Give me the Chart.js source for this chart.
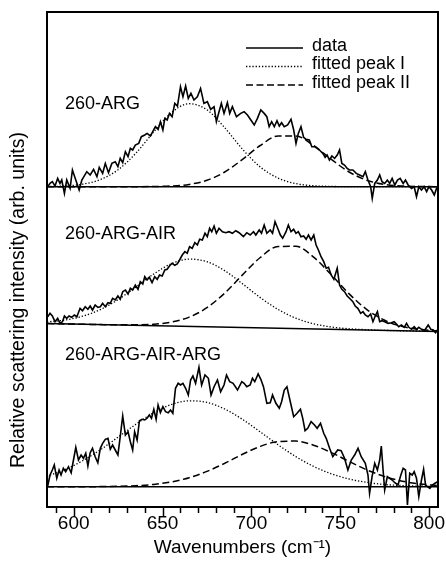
<!DOCTYPE html>
<html>
<head>
<meta charset="utf-8">
<script src="https://cdn.jsdelivr.net/npm/chart.js@4.4.1/dist/chart.umd.min.js"></script>
<style>
  html, body { margin: 0; padding: 0; background: #fff; }
  canvas { display: block; }
</style>
</head>
<body>
<canvas id="spectra" width="446" height="567"></canvas>
<script>
(function () {
  'use strict';

  // panels are stacked in one frame, each lifted by its offset
  var panelNames = ['260-ARG', '260-ARG-AIR', '260-ARG-AIR-ARG'];
  var panelOffsets = [320.3, 183.5, 20.3];
  var legendLabels = ['data', 'fitted peak I', 'fitted peak II'];
  var xTickValues = [590, 600, 610, 620, 630, 640, 650, 660, 670, 680, 690, 700, 710, 720, 730, 740, 750, 760, 770, 780, 790, 800];
  var xTickLabels = [600, 650, 700, 750, 800];

  var baselineWavenumbers = [585, 805];
  var p1Baseline = [0, 0];
  var p2Baseline = [0, -8];
  var p3Baseline = [0, 0];

  var fitWavenumbers = [585, 595, 605, 615, 625, 635, 645, 655, 665, 675, 685, 695, 705, 715, 725, 735, 745, 755, 765, 775, 785, 795, 805];

  // 260-ARG
  var p1Wavenumbers = [585.4, 586.7, 588.0, 589.5, 591.0, 592.3, 593.3, 594.8, 596.1, 598.0, 599.3, 601.2, 603.1, 604.6, 607.4, 609.3, 611.2, 613.1, 614.4, 616.3, 617.8, 619.6, 621.5, 623.4, 624.9, 626.2, 627.6, 629.1, 630.6, 631.9, 633.2, 634.7, 636.6, 638.1, 640.0, 641.3, 643.2, 644.5, 646.0, 647.5, 648.8, 650.2, 651.3, 652.6, 653.9, 655.4, 656.9, 658.4, 660.1, 661.5, 663.0, 664.5, 666.0, 667.7, 669.6, 671.4, 673.3, 675.2, 677.1, 679.0, 680.3, 681.8, 683.1, 684.6, 686.5, 687.8, 689.3, 691.6,
    694.0, 695.9, 697.8, 699.7, 701.6, 703.4, 705.3, 707.2, 708.7, 710.0, 711.4, 712.9, 714.4, 715.7, 717.0, 718.5, 720.4, 722.3, 723.8, 725.1, 726.4, 727.9, 729.4, 730.8, 732.6, 734.0, 735.5, 737.0, 738.3, 740.2, 741.5, 742.6, 743.9, 745.3, 746.8, 748.3, 749.6, 750.9, 752.4, 753.9, 755.2, 757.1, 759.0, 760.9, 762.8, 764.1, 765.6, 767.1, 768.0, 769.4, 770.9, 772.2, 773.5, 775.0, 776.5, 777.8, 779.2, 780.7, 782.2, 783.7, 785.4, 786.7, 788.2, 790.1, 791.6, 792.9, 794.2, 795.7, 797.2, 798.6, 799.9, 801.4, 802.9, 804.2, 805.0];
  var p1Intensity = [0, 3.3, 5, 0.7, 8.3, 3.3, 6.7, -6.7, 6.7, -1.7, 16.7, 6.7, -3.3, 6.7, 15, 11.7, 17.3, 10, 19.3, 13.3, 23.3, 14, 23.3, 25, 20, 28.3, 24, 35, 30, 38.3, 36.7, 41.7, 43.3, 50, 51.7, 53.3, 50.7, 55, 60, 57.3, 65, 56.7, 68.3, 66.7, 73.3, 70, 83.3, 80.7, 100, 90, 100.7, 88.3, 93.3, 86.7, 90, 98.3, 83.3, 85, 77.3, 80, 65, 75, 83.3, 73.3, 84, 73.3, 80, 70,
    73.3, 75, 71.7, 66.7, 61.7, 68.3, 76.7, 73.3, 70, 60, 65, 60, 66, 60.7, 64, 60, 61.7, 67.3, 56.7, 43.3, 53.3, 60, 49.3, 47.3, 46.7, 40, 40, 38.3, 36.7, 33.3, 29.3, 31.7, 26.7, 30.7, 28.3, 31.7, 36.7, 23.3, 21.7, 18.3, 16.7, 16.7, 13.3, 11.7, 10, 15, 6.7, 0, -11.7, 3.3, 6.7, 11.7, 5, 3.3, 6.7, 3.3, 8.3, 1.7, 6.7, 8.3, 3.3, 6.7, 1.7, -1.7, 0, -10, 0, -3.3, 0, -5, 0, -3.3, -8.3, -1.7, -3.3];
  var p1PeakI = [0.2, 0.7, 2.5, 7.1, 16.9, 33.5, 54.7, 74, 83, 76.9, 59, 37.5, 19.7, 8.6, 3.1, 0.9, 0.3, 0, 0, 0, 0, 0, 0];
  var p1PeakII = [0, 0, 0, 0, 0, 0, 0.2, 0.7, 2.3, 6.4, 14.7, 27.3, 41.2, 50.7, 50.7, 41.2, 27.3, 14.7, 6.4, 2.3, 0.7, 0.2, 0];

  // 260-ARG-AIR
  var p2Wavenumbers = [585.4, 586.7, 588, 589.5, 591, 592.3, 593.7, 594.8, 596.1, 597.4, 598.9, 600.4, 601.8, 603.6, 605, 606.5, 608, 609.3, 610.6, 612.1, 613.6, 615, 616.3, 617.8, 619.3, 620.6, 621.9, 623.4, 624.9, 626.2, 627.6, 629.1, 630.6, 631.9, 633.2, 634.7, 636.2, 637.5, 638.9, 640, 641.3, 642.6, 644.1, 645.6, 647, 648.3, 649.8, 651.3, 652.6, 653.9, 655.4, 656.9, 658.3, 659.6, 661.1, 662.6, 663.9, 665.2, 666.7, 668.2, 669.6, 670.9, 672.4, 673.9, 675.2, 676.5, 677.7, 679, 680.3, 681.8, 683.7, 685.6, 687.4, 689.3, 691.2, 693.1,
    695.5, 697.4, 699.3, 701.2, 702.5, 704.4, 705.7, 707.2, 708.7, 710.6, 711.9, 713.3, 714.8, 716.3, 717.6, 719.5, 720.8, 722.3, 723.8, 725.1, 726.4, 727.9, 729.4, 730.8, 732.1, 733.6, 735.1, 736.4, 737.7, 739.2, 740.7, 742.1, 743.4, 744.9, 746.4, 748.3, 749.6, 750.9, 752.4, 753.9, 755.2, 757.1, 758.4, 759.9, 761.5, 762.8, 764.1, 765.6, 767.1, 768.4, 769.7, 770.9, 772.2, 773.5, 775, 776.9, 778.8, 780.3, 781.6, 782.9, 784.4, 786, 787.3, 788.6, 790.1, 791.6, 792.9, 794.2, 795.7, 797.6, 799.5, 801, 802.3, 803.6, 805];
  var p2Intensity = [6.8, 10.2, 7.5, 1.8, 5.2, 0.2, 1.8, 7.5, 5.2, 7.5, 6.2, 8.5, 6.8, 15.2, 12.8, 16.8, 14.2, 17.5, 13.5, 18.5, 16.2, 16.8, 20.2, 16.8, 20.8, 20.2, 25.2, 23.5, 27.5, 24.2, 31.8, 33.5, 29.5, 35.2, 33.5, 38.5, 34.2, 41.8, 39.5, 46.8, 43.5, 46.2, 40.8, 46.8, 44.2, 48.5, 47.5, 53.5, 54.2, 57.5, 60.2, 58.2, 59.5, 63.5, 68.5, 71.8, 70.2, 76.8, 75.2, 80.8, 78.5, 84.2, 83.5, 90.2, 86.8, 95.2, 91.8, 97.5, 90.2, 95.2, 91.8, 90.8, 91.8, 90.2, 92.8, 90.8,
    86.8, 90.8, 88.5, 91.8, 88.5, 93.5, 90.2, 98.5, 90.2, 93.5, 90.2, 101.8, 95.2, 88.5, 85.2, 91.8, 98.5, 91.8, 94.2, 90.2, 91.8, 86.8, 87.5, 84.2, 88.5, 83.5, 88.5, 78.5, 73.5, 66.8, 61.8, 55.2, 56.2, 48.5, 44.2, 55.2, 38.5, 34.2, 31.8, 27.5, 25.2, 21.8, 17.5, 15.2, 10.2, 11.8, 8.5, 6.8, 9.5, 1.8, 7.5, 11.8, 1.8, 2.8, 1.8, 0.2, 0.8, 1.8, -0.5, -3.2, -1.5, -3.8, 0.2, -3.8, -5.8, -3.2, -5.8, -3.8, -5.8, -6.5, -1.5, -5.8, -6.5, -9.2, -5.8];
  var p2PeakI = [1.6, 3.4, 7.3, 13.9, 23.9, 36.4, 49.4, 59.8, 64.4, 61.8, 52.8, 39.7, 25.9, 14.1, 5.3, -0.3, -3.5, -5.3, -6.2, -6.9, -7.3, -7.6, -8.0];
  var p2PeakII = [0, -0.4, -0.7, -1.1, -1.35, -1.3, -0.8, 1.4, 6.4, 15.8, 30.4, 48.6, 66, 77, 77.2, 66.4, 48.7, 29.6, 13.9, 3.2, -3.0, -6.0, -7.5];

  // 260-ARG-AIR-ARG
  var p3Wavenumbers = [585.4, 586.7, 588, 589.1, 590.5, 591.8, 592.9, 594.2, 595.5, 597.1, 598.6, 599.9, 601.2, 602.7, 604.2, 605.5, 606.8, 608, 609.3, 610.6, 612.1, 613.6, 615, 616.3, 617.8, 619.3, 620.6, 621.9, 623.4, 624.9, 626.2, 627.6, 629.1, 630.6, 631.9, 633.2, 634.3, 635.7, 637, 638.5, 640, 641.3, 642.6, 643.8, 645.1, 646.4, 647.5, 648.8, 650.2, 651.7, 653.2, 654.5, 655.8, 657.3, 658.8, 660.1, 661.5, 663, 664.5, 665.8, 667.1, 668.6, 670.5, 672, 673.9, 675.8, 677.3, 679, 680.9, 682.7, 684.6, 686, 687.8, 689.7, 692.2, 694.6,
    695.9, 697.4, 699.3, 700.6, 701.9, 703.8, 705.3, 706.8, 708.7, 710.6, 711.9, 713.8, 715.7, 717, 718.5, 720, 721.9, 723.8, 725.7, 727.6, 728.9, 730.2, 731.7, 733.6, 735.5, 737, 738.9, 740.7, 742.1, 744, 745.8, 747.2, 748.6, 750.5, 752.4, 754.3, 756.2, 758.1, 760, 761.8, 764.1, 765.6, 766.5, 767.9, 769.4, 770.9, 772.2, 773.1, 774.1, 775, 776.5, 777.8, 779.2, 780.7, 782.5, 784.1, 785.4, 786.7, 787.8, 789.1, 790.5, 791.6, 792.9, 794.2, 795.7, 796.9, 798, 799.1, 800.4, 801.8, 803.3, 804.8];
  var p3Intensity = [0.7, 11.7, 16.7, 21.7, 8.4, 16.7, 11.7, 18.4, 15, 20, 14, 26.7, 39.4, 26.7, 31.7, 28.4, 33.4, 20.7, 34, 38.4, 30, 24, 38.4, 43.4, 47.4, 48.4, 37.4, 41.7, 36.7, 31.7, 50, 70.7, 51.7, 55, 45, 36.7, 55, 46.7, 66, 67.4, 66.7, 68.4, 71.7, 68.4, 77.4, 67.4, 81.7, 74, 80, 75, 74, 76.7, 73.4, 98.4, 103.4, 101.7, 103.4, 98.4, 91.7, 106.7, 110.7, 103.4, 119.4, 101.7, 111.7, 108.4, 91.7, 100, 106.7, 95, 101.7, 111.7, 105, 103.4, 96.7, 105,
    103.4, 100, 101.7, 108.4, 105, 112.7, 107.4, 100, 83.4, 84, 91.7, 83.4, 78.4, 85, 96.7, 100, 85, 70, 73.4, 77.4, 68.4, 56, 58.4, 65, 61.7, 58.4, 63.4, 53.4, 48.4, 38.4, 30, 33.4, 36.7, 36, 28.4, 16.7, 26.7, 31.7, 38.4, 30, 23.4, 11.7, -6.7, 10, 23.4, 16.7, 26.7, 40.7, 16.7, -3.3, 10, 8.4, 6.7, 4, 1.7, 11.7, 18.4, 16.7, -18.3, 13.4, 11.7, 15, 8.4, -10, 6.7, 17.4, 1.7, 0, -1.7, 1.7, 3.4, 5];
  var p3PeakI = [10.5, 17, 25.9, 36.9, 49.6, 62.4, 74, 82.2, 85.9, 84.3, 77.7, 67.3, 54.8, 41.9, 30.1, 20.3, 12.9, 7.7, 4.3, 2.2, 1.1, 0.5, 0.2];
  var p3PeakII = [0, 0, 0, 0.1, 0.4, 1, 2.3, 4.8, 9, 15.3, 23.4, 32.4, 40.3, 45.1, 45.6, 41.5, 34.1, 25.2, 16.8, 10.1, 5.5, 2.7, 1.2];

  var FONT = "'Liberation Sans', Arial, Helvetica, sans-serif";
  var INK = '#000';

  var LINE_STYLES = [
    { borderWidth: 1.6, borderDash: [] },          // data
    { borderWidth: 1.3, borderDash: [1.3, 1.9] },  // fitted peak I
    { borderWidth: 1.5, borderDash: [7, 3.5] }     // fitted peak II
  ];

  function points(xs, ys, offset) {
    return xs.map(function (x, i) {
      return { x: x, y: ys[i] + offset };
    });
  }

  function line(data, style, smooth) {
    return {
      data: data,
      borderColor: INK,
      borderWidth: style.borderWidth,
      borderDash: style.borderDash,
      pointRadius: 0,
      fill: false,
      tension: 0,
      cubicInterpolationMode: smooth ? 'monotone' : 'default'
    };
  }

  var panels = [
    { wn: p1Wavenumbers, data: p1Intensity, peakI: p1PeakI, peakII: p1PeakII, base: p1Baseline },
    { wn: p2Wavenumbers, data: p2Intensity, peakI: p2PeakI, peakII: p2PeakII, base: p2Baseline },
    { wn: p3Wavenumbers, data: p3Intensity, peakI: p3PeakI, peakII: p3PeakII, base: p3Baseline }
  ];

  var datasets = [];
  panels.forEach(function (p, i) {
    var off = panelOffsets[i];
    datasets.push(line(points(baselineWavenumbers, p.base, off), { borderWidth: 1.5, borderDash: [] }, false));
    datasets.push(line(points(fitWavenumbers, p.peakI, off), LINE_STYLES[1], true));
    datasets.push(line(points(fitWavenumbers, p.peakII, off), LINE_STYLES[2], true));
    datasets.push(line(points(p.wn, p.data, off), LINE_STYLES[0], false));
  });

  var decorations = {
    id: 'decorations',
    afterDraw: function (chart) {
      var ctx = chart.ctx;
      var area = chart.chartArea;
      var xScale = chart.scales.x;

      ctx.save();
      ctx.strokeStyle = INK;
      ctx.fillStyle = INK;
      ctx.setLineDash([]);

      // frame
      ctx.lineWidth = 2;
      ctx.strokeRect(area.left, area.top, area.right - area.left, area.bottom - area.top);

      // outward ticks, long on labelled values
      ctx.lineWidth = 1.5;
      xScale.ticks.forEach(function (t) {
        var px = Math.round(xScale.getPixelForValue(t.value)) + 0.5;
        var len = xTickLabels.indexOf(t.value) !== -1 ? 10 : 6;
        ctx.beginPath();
        ctx.moveTo(px, area.bottom);
        ctx.lineTo(px, area.bottom + len);
        ctx.stroke();
      });

      // legend
      var lx0 = 246, lx1 = 303, ly = 46, lstep = 18.5;
      ctx.font = '18px ' + FONT;
      ctx.textBaseline = 'middle';
      ctx.textAlign = 'left';
      legendLabels.forEach(function (label, i) {
        var st = LINE_STYLES[i];
        var y = ly + i * lstep;
        ctx.lineWidth = st.borderWidth;
        ctx.setLineDash(st.borderDash);
        ctx.beginPath();
        ctx.moveTo(lx0, y + 2);
        ctx.lineTo(lx1, y + 2);
        ctx.stroke();
        ctx.setLineDash([]);
        ctx.fillText(label, 312, y);
      });

      // panel names
      var nameY = [104, 234, 355];
      panelNames.forEach(function (name, i) {
        ctx.fillText(name, 65, nameY[i]);
      });

      // y axis title
      ctx.translate(19, 300);
      ctx.rotate(-Math.PI / 2);
      ctx.textAlign = 'center';
      ctx.font = '19.5px ' + FONT;
      ctx.fillText('Relative scattering intensity (arb. units)', 0, 0);
      ctx.restore();
    }
  };

  new Chart(document.getElementById('spectra'), {
    type: 'line',
    data: { datasets: datasets },
    options: {
      responsive: false,
      animation: false,
      devicePixelRatio: 1,
      layout: { padding: { left: 47, top: 12, right: 8, bottom: 0 } },
      plugins: {
        legend: { display: false },
        tooltip: { enabled: false }
      },
      scales: {
        x: {
          type: 'linear',
          min: 585,
          max: 805,
          afterBuildTicks: function (scale) {
            scale.ticks = xTickValues.map(function (v) {
              return { value: v };
            });
          },
          afterFit: function (scale) {
            scale.height = 60;
            scale.paddingLeft = 0;
            scale.paddingRight = 0;
          },
          border: { display: false },
          grid: { display: false, drawTicks: false },
          ticks: {
            autoSkip: false,
            maxRotation: 0,
            padding: 5,
            color: INK,
            font: { family: FONT, size: 19 },
            callback: function (value) {
              return xTickLabels.indexOf(value) !== -1 ? String(value) : '';
            }
          },
          title: {
            display: true,
            text: 'Wavenumbers (cm\u207B\u00B9)',
            color: INK,
            font: { family: FONT, size: 19 },
            padding: { top: 2, bottom: 8 }
          }
        },
        y: {
          type: 'linear',
          display: false,
          min: 0,
          max: 495
        }
      }
    },
    plugins: [decorations]
  });
})();
</script>
</body>
</html>
